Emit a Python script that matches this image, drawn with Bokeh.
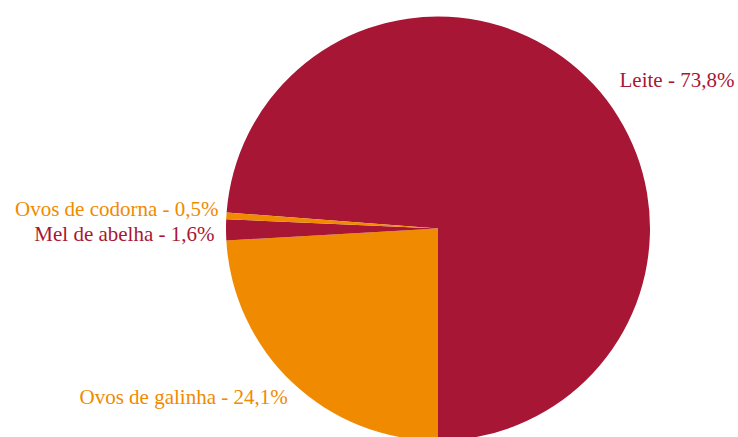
import math
from bokeh.plotting import figure
from bokeh.models import Range1d, ColumnDataSource
from bokeh.core.properties import value
from bokeh.embed import file_html
from bokeh.resources import INLINE

# Data
categories = ["Leite", "Ovos de galinha", "Mel de abelha", "Ovos de codorna"]
percentages = [73.8, 24.1, 1.6, 0.5]
label_texts = ["Leite - 73,8%", "Ovos de galinha - 24,1%", "Mel de abelha - 1,6%", "Ovos de codorna - 0,5%"]

# Styles
slice_colors = ["#A71735", "#F08A00", "#A71735", "#F08A00"]
label_fonts = ["Liberation Serif", "Liberation Serif, serif", "Liberation Serif,serif", "Liberation Serif, Times, serif"]

# Layout (screen pixel coordinates)
W, H = 738, 437
cx, cy, R = 437.5, 228.0, 212.0
label_pos = [(619, 79, "left"), (79, 396, "left"), (214, 233.5, "right"), (218, 208.5, "right")]

p = figure(width=W, height=H, output_backend="svg", toolbar_location=None,
           x_range=Range1d(0, W), y_range=Range1d(-H, 0),
           min_border=0, x_axis_location=None, y_axis_location=None)
p.grid.visible = False
p.outline_line_color = None
p.background_fill_color = "white"
p.border_fill_color = "white"

total = sum(percentages)
# clockwise angle from top; first slice ends pointing straight down
theta = 180.0 - percentages[0] / total * 360.0
starts, ends = [], []
for v in percentages:
    t0 = theta
    t1 = theta + v / total * 360.0
    starts.append(math.radians(90.0 - t0))
    ends.append(math.radians(90.0 - t1))
    theta = t1

src = ColumnDataSource(dict(x=[cx] * len(percentages), y=[-cy] * len(percentages),
                            start=starts, end=ends, color=slice_colors, cat=categories))
p.wedge(x="x", y="y", radius=R, start_angle="start", end_angle="end",
        direction="clock", fill_color="color", line_color=None, source=src)

for txt, (lx, ly, al), col, f in zip(label_texts, label_pos, slice_colors, label_fonts):
    p.text(x=[lx], y=[-ly], text=[txt], text_font=value(f),
           text_font_size=value("21px"), text_color=col, text_align=al,
           text_baseline="middle")

open("out.html", "w").write(file_html(p, INLINE))
